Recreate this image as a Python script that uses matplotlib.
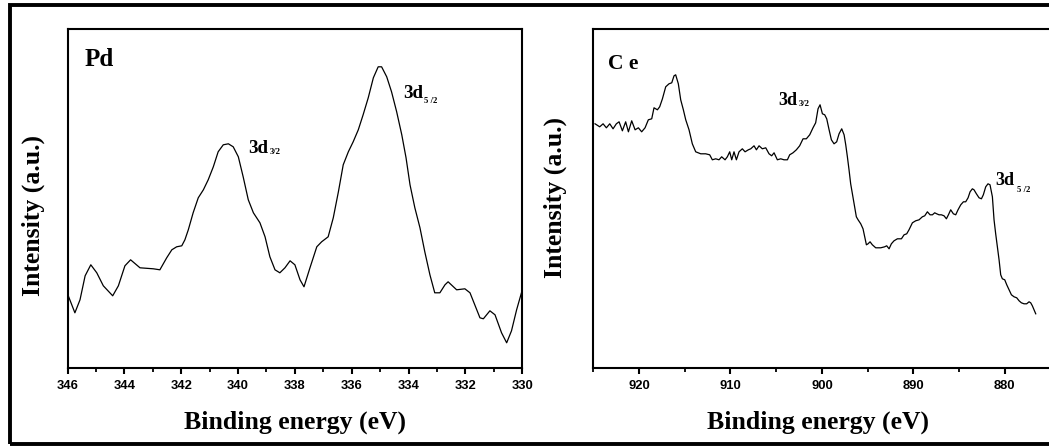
#!/usr/bin/env python3

import matplotlib
matplotlib.use('Agg')
import matplotlib.pyplot as plt
from matplotlib.patches import Rectangle
from matplotlib.ticker import MultipleLocator

# Pd 3d spectrum: binding energy (eV) and intensity (a.u.)
pd_energy = [346.00, 345.74, 345.56, 345.38, 345.18, 344.97, 344.74, 344.41,
             344.21, 343.98, 343.78, 343.45, 342.98, 342.75, 342.51, 342.33,
             342.16, 341.98, 341.87, 341.75, 341.58, 341.40, 341.22, 341.05,
             340.87, 340.70, 340.52, 340.34, 340.17, 339.99, 339.82, 339.64,
             339.46, 339.23, 339.05, 338.88, 338.70, 338.53, 338.35, 338.17,
             338.00, 337.82, 337.68, 337.47, 337.23, 337.06, 336.83, 336.65,
             336.47, 336.30, 336.12, 335.95, 335.77, 335.60, 335.42, 335.24,
             335.07, 334.95, 334.77, 334.60, 334.42, 334.24, 334.09, 333.95,
             333.78, 333.60, 333.43, 333.25, 333.08, 332.90, 332.72, 332.61,
             332.31, 332.02, 331.84, 331.49, 331.37, 331.14, 330.96, 330.73,
             330.55, 330.38, 330.20, 330.00]
pd_intensity = [74, 55, 68, 92, 103, 95, 82, 72,
                82, 102, 108, 100, 99, 98, 110, 118,
                121, 122, 128, 138, 155, 170, 178, 188,
                201, 216, 223, 224, 221, 211, 191, 168,
                155, 145, 131, 111, 98, 95, 100, 107,
                103, 88, 81, 100, 121, 126, 131, 150,
                176, 203, 216, 226, 238, 253, 270, 290,
                301, 301, 291, 276, 256, 233, 210, 183,
                160, 140, 116, 93, 75, 75, 83, 86,
                78, 79, 75, 50, 49, 57, 53, 35,
                25, 37, 58, 78]

# Ce 3d spectrum
ce_energy = [924.81, 924.30, 923.93, 923.57, 923.20, 922.84, 922.48, 922.18,
             921.82, 921.46, 921.16, 920.80, 920.43, 920.07, 919.71, 919.34,
             918.98, 918.61, 918.36, 917.99, 917.74, 917.44, 917.08, 916.72,
             916.42, 916.17, 915.99, 915.70, 915.44, 915.15, 914.89, 914.53,
             914.17, 913.80, 913.25, 912.71, 912.27, 911.98, 911.61, 911.25,
             910.96, 910.59, 910.34, 910.08, 909.86, 909.61, 909.35, 909.06,
             908.70, 908.40, 908.04, 907.78, 907.42, 907.16, 906.87, 906.51,
             906.14, 905.78, 905.49, 905.23, 904.87, 904.50, 904.14, 903.77,
             903.52, 903.16, 902.79, 902.43, 902.06, 901.70, 901.33, 900.97,
             900.68, 900.42, 900.20, 899.94, 899.69, 899.47, 899.21, 898.96,
             898.67, 898.38, 898.12, 897.83, 897.57, 897.39, 897.21, 897.03,
             896.85, 896.66, 896.48, 896.23, 896.04, 895.75, 895.50, 895.31,
             895.13, 894.95, 894.73, 894.48, 894.11, 893.56, 893.13, 892.91,
             892.65, 892.40, 892.11, 891.74, 891.30, 891.01, 890.72, 890.47,
             890.10, 889.74, 889.37, 889.01, 888.75, 888.46, 888.17, 887.91,
             887.66, 887.44, 887.19, 886.93, 886.64, 886.38, 886.16, 885.91,
             885.62, 885.36, 885.11, 884.81, 884.52, 884.27, 884.01, 883.79,
             883.54, 883.36, 883.10, 882.81, 882.55, 882.34, 882.08, 881.83,
             881.61, 881.35, 881.17, 880.99, 880.80, 880.62, 880.44, 880.26,
             880.00, 879.78, 879.53, 879.27, 878.98, 878.69, 878.43, 878.18,
             877.89, 877.60, 877.34, 877.16, 876.98, 876.79, 876.61]
ce_intensity = [244, 241, 244, 240, 244, 239, 244, 246,
                237, 246, 236, 247, 238, 240, 236, 240,
                248, 249, 260, 258, 261, 269, 281, 284,
                285, 292, 293, 284, 268, 258, 248, 238,
                224, 216, 214, 214, 213, 208, 209, 208,
                211, 208, 211, 216, 208, 216, 208, 216,
                219, 216, 218, 219, 222, 218, 222, 219,
                220, 214, 212, 215, 208, 209, 208, 208,
                213, 215, 218, 222, 229, 229, 233, 240,
                245, 259, 263, 254, 253, 249, 238, 228,
                224, 226, 234, 239, 233, 223, 211, 198,
                184, 174, 164, 151, 148, 144, 139, 131,
                123, 124, 126, 123, 120, 120, 121, 122,
                119, 124, 127, 129, 129, 133, 134, 138,
                145, 147, 148, 151, 152, 156, 153, 153,
                155, 154, 153, 153, 152, 149, 153, 158,
                154, 153, 158, 163, 166, 166, 170, 176,
                179, 178, 174, 170, 169, 173, 181, 184,
                183, 171, 148, 134, 121, 108, 93, 89,
                88, 83, 78, 73, 71, 70, 67, 65,
                64, 64, 66, 65, 62, 58, 54]

pd_ticks = [346, 344, 342, 340, 338, 336, 334, 332, 330]
ce_ticks = [920, 910, 900, 890, 880]

SERIF = 'Liberation Serif'
SANS = 'Liberation Sans'
W, H = 1049, 446

fig = plt.figure(figsize=(W / 100, H / 100), dpi=100)

# outer black frame (right side cut off like the original screenshot)
fig.patches.append(Rectangle((10 / W, 1 - 443.5 / H), 1.2, (443.5 - 5.3) / H,
                             transform=fig.transFigure, fill=False,
                             ec='black', lw=2.8, clip_on=False))

ax1 = fig.add_axes([67.5 / W, 1 - 367.8 / H, 454.8 / W, 338.5 / H])
# right panel runs past the image edge
ax2 = fig.add_axes([593.3 / W, 1 - 367.8 / H, 55 * 9.143 / W, 338.5 / H])

ax1.plot(pd_energy, pd_intensity, color='black', lw=0.9,
         solid_joinstyle='round')
ax2.plot(ce_energy, ce_intensity, color='black', lw=0.9,
         solid_joinstyle='round')

ax1.set_xlim(346, 330)
ax2.set_xlim(925, 870)
for ax in (ax1, ax2):
    ax.set_ylim(0, 338.5)
    ax.set_yticks([])
    for s in ax.spines.values():
        s.set_linewidth(1.5)
    ax.tick_params(axis='x', which='major', direction='out', length=4,
                   width=1.5, pad=5)
    ax.tick_params(axis='x', which='minor', direction='out', length=3,
                   width=1.3)

ax1.set_xticks(pd_ticks)
ax1.xaxis.set_minor_locator(MultipleLocator(1))
ax2.set_xticks(ce_ticks)
ax2.xaxis.set_minor_locator(MultipleLocator(5))
for ax in (ax1, ax2):
    for lab in ax.get_xticklabels():
        lab.set_fontfamily(SANS)
        lab.set_fontweight('bold')
        lab.set_fontsize(9.4)

# axis titles
fig.text(295 / W, 1 - 429 / H, 'Binding energy (eV)', family=SERIF,
         weight='bold', size=18.5, ha='center', va='baseline')
fig.text(818 / W, 1 - 429 / H, 'Binding energy (eV)', family=SERIF,
         weight='bold', size=18.5, ha='center', va='baseline')
fig.text(33 / W, 1 - 216 / H, 'Intensity (a.u.)', family=SERIF,
         weight='bold', size=18.5, ha='center', va='center', rotation=90)
fig.text(555 / W, 1 - 198 / H, 'Intensity (a.u.)', family=SERIF,
         weight='bold', size=18.5, ha='center', va='center', rotation=90)

# panel labels
ax1.text(0.0385, 0.892, 'Pd', transform=ax1.transAxes, family=SERIF,
         weight='bold', size=18, va='baseline')
ax2.text(0.0286, 0.882, 'C e', transform=ax2.transAxes, family=SERIF,
         weight='bold', size=15.5, va='baseline')


def peak_label(ax, x, y, sub, size, dx, dy):
    ax.text(x, y, '3d', family=SERIF, weight='bold', size=size,
            va='baseline', ha='left')
    ax.annotate(sub, (x, y), xytext=(dx, dy), textcoords='offset points',
                family=SERIF, weight='bold', size=6.3, va='baseline',
                ha='left')


peak_label(ax1, 339.65, 214.8, '3/2', 13.7, 15.8, -0.5)
peak_label(ax1, 334.20, 269.8, '5 /2', 13.7, 15.1, -3.6)
peak_label(ax2, 904.72, 262.8, '3/2', 13, 14.4, -0.5)
peak_label(ax2, 880.99, 182.8, '5 /2', 13, 15.1, -4.8)

fig.savefig('out.png', dpi=100)
